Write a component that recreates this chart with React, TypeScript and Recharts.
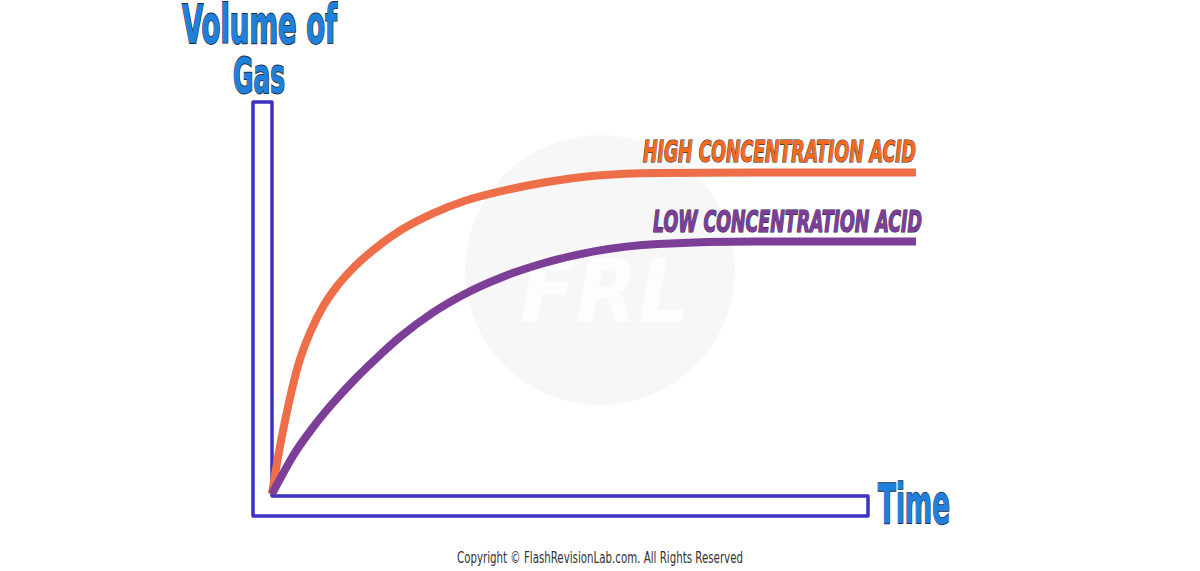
import { LineChart, Line, XAxis, YAxis } from "recharts";

// time points (arbitrary units) and volume of gas
const times = [0, 1, 2, 3, 4, 6, 8, 10, 13, 16, 20, 25, 30, 36, 42, 50, 60, 75, 100];
const highAcid = [0, 10, 18.5, 26, 32.5, 41.5, 48, 52.8, 58.3, 62.6, 67.3, 71.6, 74.8, 77.4, 79.4, 81.2, 81.9, 82, 82];
const lowAcid = [0, 3.1, 6.1, 9, 11.6, 16.2, 20.4, 24.2, 29.5, 34.3, 40.2, 46.3, 51.1, 55.5, 58.8, 61.9, 63.8, 64.4, 64.4];

const yLabel = ["Volume of", "Gas"];
const xLabel = "Time";
const highLabel = "HIGH CONCENTRATION ACID";
const lowLabel = "LOW CONCENTRATION ACID";
const copyright = "Copyright © FlashRevisionLab.com. All Rights Reserved";

const data = times.map((t, i) => ({ t, high: highAcid[i], low: lowAcid[i] }));

const W = 1200;
const H = 571;
const margin = { top: 102, right: 284, bottom: 77, left: 272 };

const AXIS = "#3d32c0";
const ORANGE = "#ef6e4a";
const PURPLE = "#7d3e98";
const BLUE = "#1f80dc";
const narrow = "'Liberation Sans Narrow', 'DejaVu Sans Condensed', sans-serif";

export default function App() {
  const x0 = margin.left;
  const y0 = H - margin.bottom;
  return (
    <div style={{ position: "absolute", left: 0, top: 0, background: "#fff" }}>
      <LineChart width={W} height={H} data={data} margin={margin}>
        <XAxis type="number" dataKey="t" domain={[0, 100]} hide />
        <YAxis type="number" domain={[0, 100]} hide />
        {/* hollow L-shaped axis frame */}
        <path
          d={`M${x0 - 19},${margin.top} H${x0} V${y0 + 2} H868 V${y0 + 22} H${x0 - 19} Z`}
          fill="none"
          stroke={AXIS}
          strokeWidth={3.5}
          strokeLinejoin="round"
        />
        <Line
          dataKey="high"
          type="monotone"
          stroke={ORANGE}
          strokeWidth={8}
          dot={false}
          activeDot={false}
          isAnimationActive={false}
        />
        <Line
          dataKey="low"
          type="monotone"
          stroke={PURPLE}
          strokeWidth={8}
          dot={false}
          activeDot={false}
          isAnimationActive={false}
        />
        {/* faint watermark */}
        <circle cx={600} cy={270} r={135} fill="#999" fillOpacity={0.08} />
        <text
          x={520}
          y={322}
          fontFamily={narrow}
          fontWeight="bold"
          fontStyle="italic"
          fontSize={88}
          fill="#fff"
          fillOpacity={0.7}
          textLength={170}
          lengthAdjust="spacingAndGlyphs"
        >
          FRL
        </text>

        <g fontFamily={narrow} fontWeight="bold" stroke="#1d2940" strokeWidth={1.6} paintOrder="stroke">
          <text
            x={182}
            y={43}
            fontSize={46}
            fill={BLUE}
            textLength={155}
            lengthAdjust="spacingAndGlyphs"
            transform="translate(0 43) scale(1 1.15) translate(0 -43)"
          >
            {yLabel[0]}
          </text>
          <text
            x={233}
            y={93}
            fontSize={44}
            fill={BLUE}
            textLength={52}
            lengthAdjust="spacingAndGlyphs"
            transform="translate(0 93) scale(1 1.15) translate(0 -93)"
          >
            {yLabel[1]}
          </text>
          <text x={878} y={523} fontSize={55} fill={BLUE} textLength={72} lengthAdjust="spacingAndGlyphs">
            {xLabel}
          </text>
          <text
            x={643}
            y={162}
            fontSize={30}
            fontStyle="italic"
            fill="#f46a1c"
            strokeWidth={1.2}
            textLength={273}
            lengthAdjust="spacingAndGlyphs"
          >
            {highLabel}
          </text>
          <text
            x={653}
            y={232}
            fontSize={30}
            fontStyle="italic"
            fill={PURPLE}
            strokeWidth={1.2}
            textLength={269}
            lengthAdjust="spacingAndGlyphs"
          >
            {lowLabel}
          </text>
        </g>
        <text
          x={457}
          y={563}
          fontFamily={narrow}
          fontSize={15}
          fill="#333"
          textLength={286}
          lengthAdjust="spacingAndGlyphs"
        >
          {copyright}
        </text>
      </LineChart>
    </div>
  );
}
